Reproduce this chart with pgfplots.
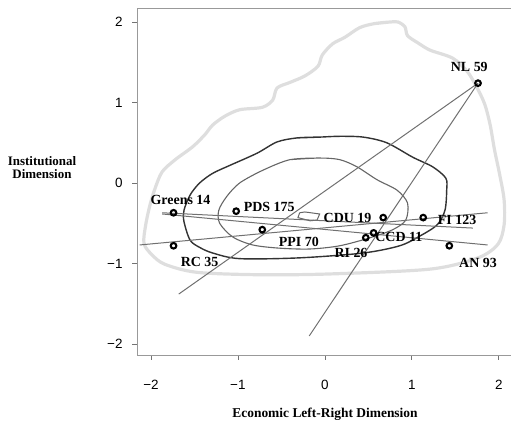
\documentclass[border=0pt]{standalone}
\usepackage{fontspec}
\setmainfont{Liberation Serif}
\newfontfamily\sansf{Liberation Sans}
\usepackage{pgfplots}
\pgfplotsset{compat=1.18}
\definecolor{outerc}{HTML}{DEDEDE}
\definecolor{darkc}{HTML}{333333}
\definecolor{midc}{HTML}{666666}
\definecolor{linec}{HTML}{707070}
\begin{document}
\begin{tikzpicture}
\useasboundingbox (0,0) rectangle (511bp,421bp);
\begin{axis}[
  at={(137bp,66bp)}, anchor=south west,
  scale only axis, width=375.8bp, height=347bp,
  xmin=-2.16, xmax=2.16, ymin=-2.137, ymax=2.174,
  xtick={-2,-1,0,1,2}, xticklabels={−2,−1,0,1,2},
  ytick={-2,-1,0,1,2}, yticklabels={−2,−1,0,1,2},
  xtick pos=bottom, ytick pos=left,
  tick align=outside, major tick length=5bp,
  axis line style={black!40, line width=0.8bp},
  tick style={black!55, line width=0.8bp},
  tick label style={font=\sansf\fontsize{13.5}{15}\selectfont},
  xticklabel style={yshift=-17bp},
  yticklabel style={xshift=-6bp},
  clip=false,
]
% outer contour
\addplot[outerc, line width=3.2bp, smooth] coordinates {
(0.75,2.00) (0.57,1.98) (0.40,1.93) (0.23,1.81) (0.09,1.73) (-0.03,1.59) (-0.08,1.45)
(-0.23,1.33) (-0.40,1.25) (-0.55,1.18) (-0.60,1.03) (-0.72,0.94) (-0.98,0.91) (-1.15,0.83)
(-1.29,0.72) (-1.38,0.60) (-1.52,0.45) (-1.72,0.29) (-1.87,0.14) (-1.95,-0.06) (-2.01,-0.27)
(-2.06,-0.52) (-2.08,-0.75) (-1.99,-0.89) (-1.84,-1.01) (-1.47,-1.11) (-0.75,-1.14) (0.06,-1.13)
(1.21,-1.07) (1.76,-0.93) (1.99,-0.76) (2.06,-0.52) (2.06,-0.21) (2.01,0.10) (1.95,0.41)
(1.90,0.72) (1.84,0.97) (1.76,1.16) (1.64,1.38) (1.47,1.55) (1.21,1.65) (1.07,1.74)
(0.95,1.83) (0.92,1.94) (0.84,2.00) (0.75,2.00) (0.57,1.98)
};
% dark contour
\addplot[darkc, line width=1.4bp, smooth] coordinates {
(-0.06,0.57) (-0.32,0.56) (-0.55,0.51) (-0.78,0.37) (-1.09,0.22) (-1.29,0.12) (-1.44,0.00)
(-1.55,-0.15) (-1.62,-0.34) (-1.62,-0.48) (-1.55,-0.71) (-1.44,-0.80) (-1.29,-0.87) (-0.98,-0.94)
(-0.29,-0.93) (0.44,-0.87) (0.86,-0.78) (1.09,-0.66) (1.29,-0.52) (1.38,-0.34) (1.40,-0.09)
(1.39,0.06) (1.24,0.20) (1.01,0.32) (0.71,0.50) (0.44,0.57) (0.17,0.58) (-0.06,0.57) (-0.32,0.56)
};
% inner contour
\addplot[midc, line width=1.1bp, smooth] coordinates {
(-0.06,0.31) (-0.40,0.29) (-0.71,0.16) (-0.98,0.00) (-1.13,-0.17) (-1.22,-0.34) (-1.21,-0.50)
(-1.06,-0.67) (-0.83,-0.77) (-0.52,-0.81) (-0.17,-0.82) (0.17,-0.78) (0.52,-0.68) (0.78,-0.58)
(0.93,-0.46) (0.95,-0.25) (0.83,-0.09) (0.60,0.04) (0.37,0.20) (0.17,0.29) (-0.06,0.31) (-0.40,0.29)
};
% tiny contour
\addplot[midc, line width=1bp] coordinates {
(-0.29,-0.37) (-0.23,-0.36) (-0.06,-0.385) (-0.09,-0.46) (-0.17,-0.47) (-0.31,-0.43) (-0.29,-0.37)
};
% straight lines
\addplot[linec, line width=1bp] coordinates {(1.76,1.24) (-1.68,-1.38)};
\addplot[linec, line width=1bp] coordinates {(1.76,1.24) (-0.18,-1.90)};
\addplot[linec, line width=1bp] coordinates {(-1.87,-0.37) (1.70,-0.56)};
\addplot[linec, line width=1bp] coordinates {(-1.87,-0.385) (1.87,-0.77)};
\addplot[linec, line width=1bp] coordinates {(-2.13,-0.77) (1.87,-0.37)};
% points
\addplot[only marks, mark=o, mark size=2.8bp, line width=2.1bp, black] coordinates {
(1.76,1.24) (-1.74,-0.37) (-1.02,-0.35) (0.67,-0.43) (1.13,-0.43)
(-0.72,-0.58) (0.56,-0.62) (0.47,-0.68) (-1.74,-0.78) (1.43,-0.78)
};
\begin{scope}[every node/.style={font=\bfseries\fontsize{14}{15}\selectfont, inner sep=0pt}]
\node at (axis cs:1.66,1.44) {NL 59};
\node at (axis cs:-1.66,-0.21) {Greens 14};
\node at (axis cs:-0.64,-0.30) {PDS 175};
\node at (axis cs:0.26,-0.43) {CDU 19};
\node at (axis cs:1.52,-0.46) {FI 123};
\node at (axis cs:-0.30,-0.73) {PPI 70};
\node at (axis cs:0.85,-0.67) {CCD 11};
\node at (axis cs:0.30,-0.87) {RI 26};
\node at (axis cs:-1.44,-0.98) {RC 35};
\node at (axis cs:1.76,-0.99) {AN 93};
\end{scope}
\end{axis}
\node[font=\bfseries\fontsize{13.5}{15}\selectfont] at (325bp,7bp) {Economic Left-Right Dimension};
\node[font=\bfseries\fontsize{13}{13}\selectfont, align=center] at (42bp,253bp) {Institutional\\Dimension};
\end{tikzpicture}
\end{document}
